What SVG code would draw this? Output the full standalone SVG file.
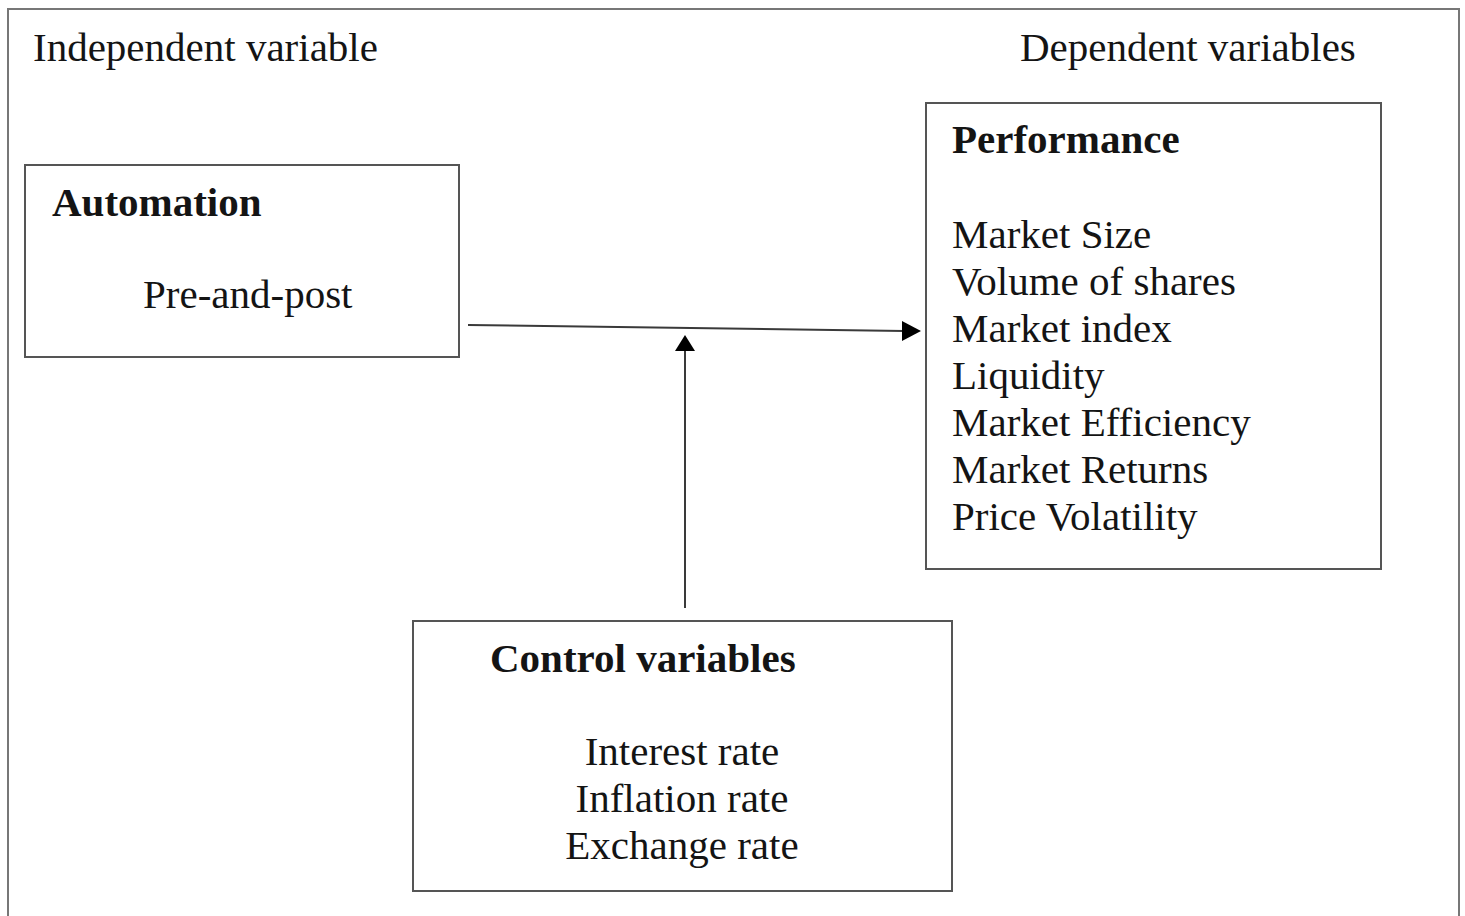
<svg xmlns="http://www.w3.org/2000/svg" width="1465" height="916" viewBox="0 0 1465 916">
<defs>
<style>
.t{font-family:"Liberation Serif","Times New Roman",serif;font-size:41px;fill:#141414}
.b{font-weight:bold}
.box{fill:#fff;stroke:#555;stroke-width:2}
.line{stroke:#3a3a3a;stroke-width:2;fill:none}
.head{fill:#000}
</style>
</defs>
<rect x="0" y="0" width="1465" height="916" fill="#fff"/>
<rect x="8" y="9" width="1451" height="930" fill="none" stroke="#777" stroke-width="2"/>
<text class="t" x="33" y="61">Independent variable</text>
<text class="t" x="1020" y="61">Dependent variables</text>
<g id="automation">
<rect class="box" x="25" y="165" width="434" height="192"/>
<text class="t b" x="52" y="216">Automation</text>
<text class="t" x="143" y="308">Pre-and-post</text>
</g>
<g id="performance">
<rect class="box" x="926" y="103" width="455" height="466"/>
<text class="t b" x="952" y="153">Performance</text>
<text class="t" x="952" y="248">Market Size</text>
<text class="t" x="952" y="295">Volume of shares</text>
<text class="t" x="952" y="342">Market index</text>
<text class="t" x="952" y="389">Liquidity</text>
<text class="t" x="952" y="436">Market Efficiency</text>
<text class="t" x="952" y="483">Market Returns</text>
<text class="t" x="952" y="530">Price Volatility</text>
</g>
<g id="control">
<rect class="box" x="413" y="621" width="539" height="270"/>
<text class="t b" x="490" y="672">Control variables</text>
<text class="t" x="682" y="765" text-anchor="middle">Interest rate</text>
<text class="t" x="682" y="812" text-anchor="middle">Inflation rate</text>
<text class="t" x="682" y="859" text-anchor="middle">Exchange rate</text>
</g>
<g id="connectors">
<line class="line" x1="468" y1="325" x2="904" y2="331"/>
<polygon class="head" points="921,331 902,321 902,341"/>
<line class="line" x1="685" y1="608" x2="685" y2="350"/>
<polygon class="head" points="685,335 675,351 695,351"/>
</g>
</svg>
